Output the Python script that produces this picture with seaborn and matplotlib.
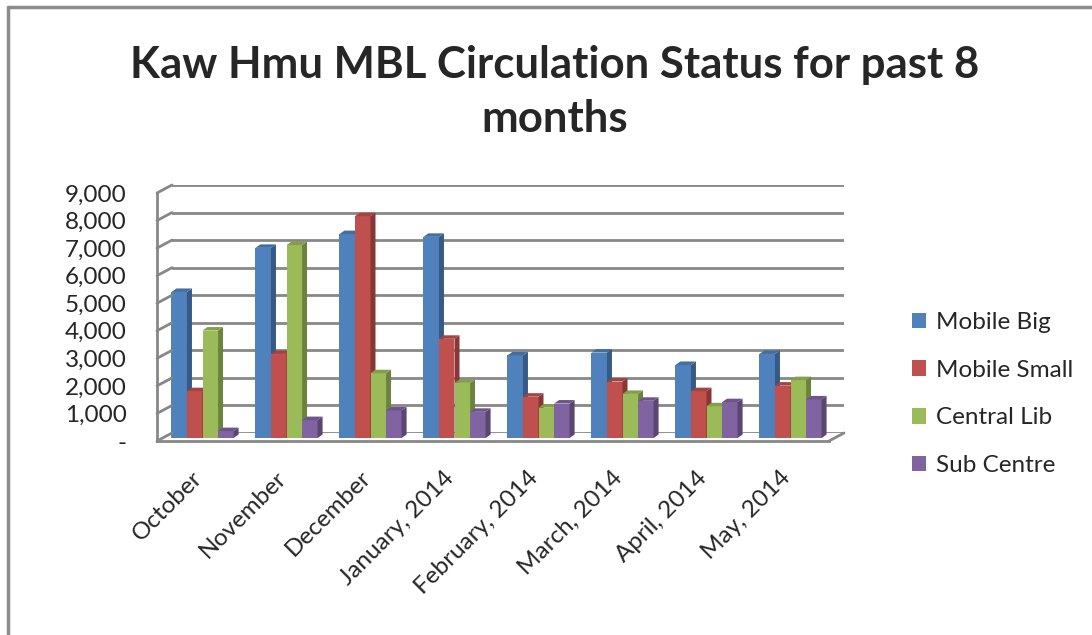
import matplotlib
matplotlib.use("Agg")
import matplotlib.pyplot as plt
import matplotlib.colors as mcolors
import numpy as np
import pandas as pd
import seaborn as sns
from matplotlib.lines import Line2D
from matplotlib.patches import ConnectionPatch, Patch, Polygon

# --- data ---
months = [
    "October", "November", "December", "January, 2014",
    "February, 2014", "March, 2014", "April, 2014", "May, 2014",
]
mobile_big = [5300, 6900, 7400, 7300, 3000, 3100, 2650, 3050]
mobile_small = [1700, 3050, 8050, 3600, 1500, 2050, 1700, 1900]
central_lib = [3900, 7000, 2350, 2000, 1100, 1600, 1150, 2100]
sub_centre = [250, 650, 1000, 950, 1250, 1350, 1300, 1400]
series_names = ["Mobile Big", "Mobile Small", "Central Lib", "Sub Centre"]
y_ticks = list(range(0, 9001, 1000))
y_labels = ["-"] + [f"{v:,}" for v in y_ticks[1:]]

colors = ["#4F81BD", "#C0504D", "#9BBB59", "#8064A2"]
grey = "#878787"

df = pd.DataFrame({
    "month": months * 4,
    "series": np.repeat(series_names, len(months)),
    "value": mobile_big + mobile_small + central_lib + sub_centre,
})

sns.set_style("white")
plt.rcParams["font.family"] = ["Lato", "DejaVu Sans"]

W, H = 1092, 635
fig = plt.figure(figsize=(W / 100, H / 100), dpi=100)


def box(x0, y_top, x1, y_bot):
    return [x0 / W, 1 - y_bot / H, (x1 - x0) / W, (y_bot - y_top) / H]


# back wall (gridlines) and front plane (axis + bars)
ax_back = fig.add_axes(box(172, 185, 844, 433))
ax = fig.add_axes(box(157, 193, 829, 441))
ax.patch.set_alpha(0)
for a in (ax_back, ax):
    a.set_xlim(-0.5, 7.5)
    a.set_ylim(0, 9000)

for v in y_ticks:
    ax_back.axhline(v, color=grey, lw=2)
ax_back.set_axis_off()

sns.barplot(
    data=df, x="month", y="value", hue="series", order=months,
    hue_order=series_names, palette=colors, saturation=1, width=0.74,
    errorbar=None, linewidth=0, legend=False, ax=ax,
)
ax.set_xlim(-0.5, 7.5)
ax.set_ylim(0, 9000)

# pixel scale of the front axes, used for the fake 3D depth
p0 = ax.transData.transform((0, 0))
p1 = ax.transData.transform((1, 1000))
sx = p1[0] - p0[0]
sy = (p1[1] - p0[1]) / 1000
ox, oy = 3.5 / sx, 3 / sy
ddx, ddy = 5 / sx, 3.5 / sy

for hi, cont in enumerate(ax.containers):
    base = np.array(mcolors.to_rgb(colors[hi]))
    side_c = base * 0.7
    top_c = base * 0.85
    for p in cont.patches:
        x = p.get_x() + ox
        w = p.get_width()
        h = p.get_height()
        p.set_x(x)
        p.set_y(oy)
        p.set_clip_on(False)
        z = 2 + hi * 0.1
        p.set_zorder(z)
        side = Polygon(
            [(x + w, oy), (x + w, oy + h), (x + w + ddx, oy + h + ddy), (x + w + ddx, oy + ddy)],
            closed=True, facecolor=side_c, edgecolor="none", zorder=z, clip_on=False,
        )
        top = Polygon(
            [(x, oy + h), (x + w, oy + h), (x + w + ddx, oy + h + ddy), (x + ddx, oy + h + ddy)],
            closed=True, facecolor=top_c, edgecolor="none", zorder=z, clip_on=False,
        )
        ax.add_patch(side)
        ax.add_patch(top)

# axes styling
for s in ("top", "right"):
    ax.spines[s].set_visible(False)
for s in ("left", "bottom"):
    ax.spines[s].set_color(grey)
    ax.spines[s].set_linewidth(2)

ax.set_yticks(y_ticks, y_labels)
ax.tick_params(axis="y", length=5.8, width=2, color=grey, pad=16, labelsize=17.5)
ax.set_xticks(range(len(months)), months, rotation=45, ha="right", va="center",
              rotation_mode="anchor")
ax.set_xticks(np.arange(-0.5, len(months), 1), minor=True)
ax.tick_params(axis="x", which="major", length=0, pad=24, labelsize=17.5)
ax.tick_params(axis="x", which="minor", length=6, width=2, color=grey)
ax.set_xlabel("")
ax.set_ylabel("")

# side wall and floor edges joining front plane to back wall
for v in y_ticks:
    fig.add_artist(ConnectionPatch(
        xyA=(-0.5, v), coordsA=ax.transData, xyB=(-0.5, v), coordsB=ax_back.transData,
        color=grey, lw=2,
    ))
fig.add_artist(ConnectionPatch(
    xyA=(7.5, 0), coordsA=ax.transData, xyB=(7.5, 0), coordsB=ax_back.transData,
    color=grey, lw=2,
))

handles = [Patch(facecolor=c, edgecolor="none") for c in colors]
fig.legend(
    handles, series_names, loc="center left", bbox_to_anchor=(890 / W, 1 - 394 / H),
    frameon=False, fontsize=17.5, handlelength=0.6, handleheight=0.6,
    labelspacing=1.1, handletextpad=0.4,
)

fig.text(
    555 / W, 1 - 92 / H, "Kaw Hmu MBL Circulation Status for past 8\nmonths",
    ha="center", va="center", fontsize=31.5, fontweight="bold", linespacing=1.4,
)

# chart frame (only left and top edges are inside the picture)
fig.add_artist(Line2D([7.5 / W, 7.5 / W], [0, 1 - 6.5 / H], color="#8c8c8c", lw=2.5))
fig.add_artist(Line2D([7.5 / W, 1], [1 - 6.5 / H, 1 - 6.5 / H], color="#8c8c8c", lw=2.5))

fig.savefig("out.png", dpi=100)
